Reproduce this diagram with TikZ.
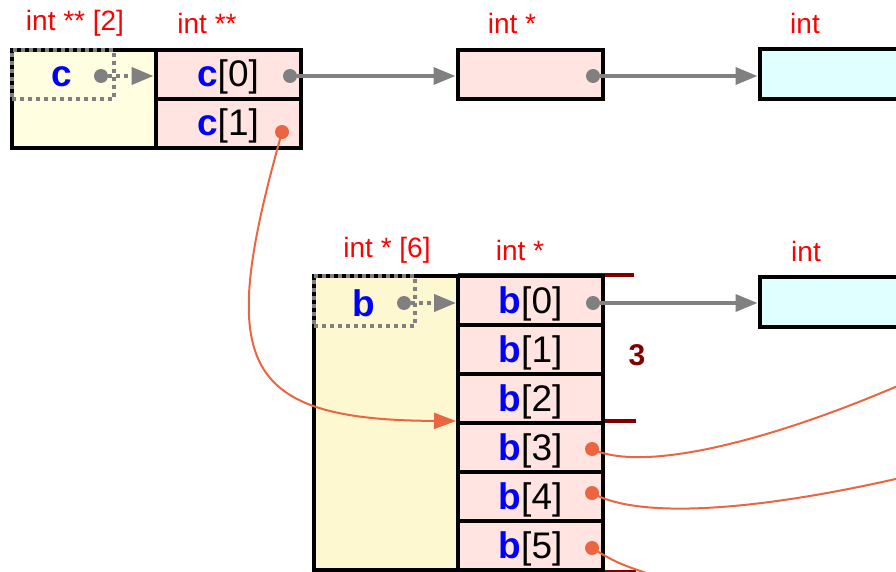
\documentclass[tikz,border=0pt]{standalone}
\usepackage{fontspec}
\setmainfont{Liberation Sans}
\usetikzlibrary{arrows.meta}
\definecolor{cellpink}{HTML}{FFE4E1}
\definecolor{cellcyan}{HTML}{E0FFFF}
\definecolor{arrlight}{HTML}{FFFEE0}
\definecolor{arrdeep}{HTML}{FDF8D0}
\definecolor{ptrgray}{HTML}{808080}
\definecolor{linkred}{HTML}{EC6541}
\definecolor{cntred}{HTML}{800000}

\begin{document}
\begin{tikzpicture}[x=1pt,y=-1pt]
	\tikzstyle{every node}+=[inner sep=0pt]
	\tikzstyle{cell}=[draw, line width=4pt, fill=cellpink, minimum width=145pt, minimum height=49pt, text height=31pt, text depth=6pt, font=\fontsize{37}{40}\selectfont]
	\tikzstyle{intcell}=[cell, fill=cellcyan, minimum height=50pt]
	\tikzstyle{arrbox}=[draw, line width=4pt, minimum width=144pt]
	\tikzstyle{namebox}=[draw=ptrgray, line width=4pt, dash pattern=on 4pt off 4pt, minimum height=49pt]
	\tikzstyle{vname}=[text=blue, font=\fontsize{37}{40}\selectfont\bfseries]
	\tikzstyle{tlabel}=[text=red, font=\fontsize{28}{30}\selectfont]
	\tikzstyle{gdot}=[circle, fill=ptrgray, minimum size=14pt]
	\tikzstyle{rdot}=[circle, fill=linkred, minimum size=14pt]
	\tikzstyle{garrow}=[draw=ptrgray, line width=3.5pt, -{Triangle[length=22pt,width=17pt]}]
	\tikzstyle{gdotarrow}=[garrow, line width=4pt, dash pattern=on 4pt off 4pt]
	\tikzstyle{rlink}=[draw=linkred, line width=2pt]
	\tikzstyle{rarrow}=[rlink, -{Triangle[length=22pt,width=16pt]}]
	\tikzstyle{bound}=[draw=cntred, line width=4pt]
	\useasboundingbox (0,0) rectangle (896,572);
	\clip (0,0) rectangle (896,572);

	% type labels
	\node[tlabel] (lc) at (75,23) {int ** [2]};
	\node[tlabel] (lcc) at (207,23) {int **};
	\node[tlabel] (lp) at (512,23) {int *};
	\node[tlabel] (li) at (805,23) {int};
	\node[tlabel] (lb) at (387,250) {int * [6]};
	\node[tlabel] (lbb) at (520,250) {int *};
	\node[tlabel] (lbi) at (806,251) {int};

	% c : int ** [2]
	\node[arrbox, fill=arrlight, minimum height=98pt] (c) at (84,99) {};
	\node[cell] (c0) at (228,74.5) {\textcolor{blue}{\textbf{c}}[0]};
	\node[cell] (c1) at (228,123.5) {\textcolor{blue}{\textbf{c}}[1]};
	\node[namebox, minimum width=102pt] (cname) at (63,74.5) {};
	\node[vname] at (62,77) {c};
	\node[gdot] (cd) at (101,76) {};
	\node[gdot] (c0d) at (290,76) {};
	\node[rdot] (c1d) at (282,132) {};

	\node[cell] (p) at (530,74.5) {};
	\node[gdot] (pd) at (593,76) {};
	\node[intcell] (i) at (832,74.5) {};

	\draw[gdotarrow] (cd) -- (cd -| c0.west);
	\draw[garrow] (c0d) -- (c0d -| p.west);
	\draw[garrow] (pd) -- (pd -| i.west);

	% b : int * [6]
	\draw[bound] (458,274.5) -- (634,274.5);
	\node[arrbox, fill=arrdeep, minimum height=294pt] (b) at (386,423) {};
	\foreach \k in {0,...,5}
		\node[cell] (b\k) at (530.5,300.5+49*\k) {\textcolor{blue}{\textbf{b}}[\k]};
	\node[namebox, minimum width=101pt, minimum height=50pt] (bname) at (364.5,301) {};
	\node[vname] at (364,303) {b};
	\node[gdot] (bd) at (404,303) {};
	\node[gdot] (b0d) at (593,303) {};
	\node[rdot] (b3d) at (592,449) {};
	\node[rdot] (b4d) at (592,493) {};
	\node[rdot] (b5d) at (592,548) {};
	\draw[bound] (b3.north east) -- ++(31,0);
	\draw[bound] (b5.south east) -- ++(31,0);
	\node[text=cntred, font=\fontsize{30}{32}\selectfont\bfseries] (n) at (637,355) {3};

	\node[intcell] (bi) at (832,302) {};

	\draw[gdotarrow] (bd) -- (bd -| b0.west);
	\draw[garrow] (b0d) -- (b0d -| bi.west);

	% links
	\draw[rarrow] (c1d.center) .. controls (218,360) and (235,420) .. (b3.north west);
	\coordinate (e3) at (900,385);
	\coordinate (e4) at (900,478);
	\coordinate (e5) at (700,590);
	\draw[rlink] (b3d.center) .. controls (640,472) and (760,445) .. (e3);
	\draw[rlink] (b4d.center) .. controls (640,520) and (760,510) .. (e4);
	\draw[rlink] (b5d.center) .. controls (620,565) .. (e5);
	\end{tikzpicture}
\end{document}
